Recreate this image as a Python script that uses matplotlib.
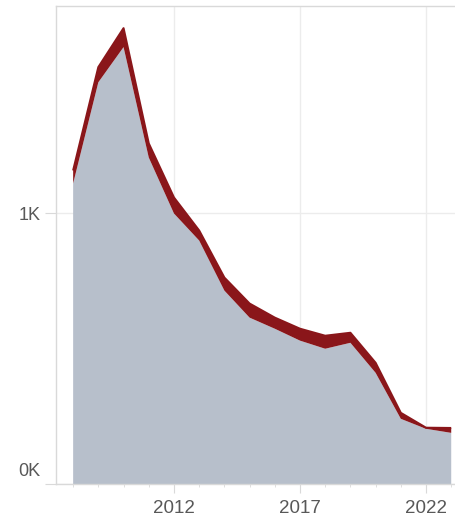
import numpy as np
import matplotlib.pyplot as plt
import matplotlib.transforms as mtransforms

years = list(range(2008, 2024))
base = [1111, 1485, 1615, 1207, 1000, 900, 715, 615, 574, 530, 500, 522, 411, 241, 204, 189]
band = [48, 56, 70, 52, 59, 37, 48, 52, 41, 44, 48, 37, 37, 22, 4, 18]
ytick_vals = [0, 1000]
ytick_labels = ["0K", "1K"]
xtick_vals = [2012, 2017, 2022]

grey = "#b7bfcb"
red = "#8a161a"
line_col = "#d9d9d9"
text_col = "#585858"

fig = plt.figure(figsize=(4.56, 5.25), dpi=100)
ax = fig.add_axes([56 / 456, 1 - 484 / 525, 399 / 456, 478 / 525])

ax.stackplot(years, base, band, colors=[grey, red], linewidth=0)
# thin edge on top of the band so it reads as thick as in the original
total = np.array(base) + np.array(band)
ax.plot(years, total, color=red, linewidth=1.5,
        solid_joinstyle="round", solid_capstyle="butt")

ax.set_xlim(2007.32, 2023.15)
ax.set_ylim(0, 1767)

ax.set_xticks(xtick_vals)
ax.set_xticks(years, minor=True)
ax.set_yticks(ytick_vals, ytick_labels)

ax.grid(True, which="major", color="#ececec", linewidth=1)
ax.set_axisbelow(True)

for side in ["left", "top", "bottom"]:
    ax.spines[side].set_color(line_col)
    ax.spines[side].set_linewidth(1)
ax.spines["right"].set_visible(False)

ax.tick_params(axis="x", which="major", length=6.5, color=line_col, pad=5,
               labelsize=13.5, labelcolor=text_col)
ax.tick_params(axis="x", which="minor", length=2.5, color=line_col)
ax.tick_params(axis="y", length=8, color=line_col, pad=3,
               labelsize=13, labelcolor=text_col)
for lbl in ax.get_xticklabels() + ax.get_yticklabels():
    lbl.set_fontfamily("Liberation Sans")

# bottom label sits just above the baseline
lab0 = ax.yaxis.get_major_ticks()[0].label1
lab0.set_verticalalignment("bottom")
lab0.set_transform(lab0.get_transform() + mtransforms.ScaledTranslation(0, 4 / 100, fig.dpi_scale_trans))

fig.savefig("out.png", dpi=100)
